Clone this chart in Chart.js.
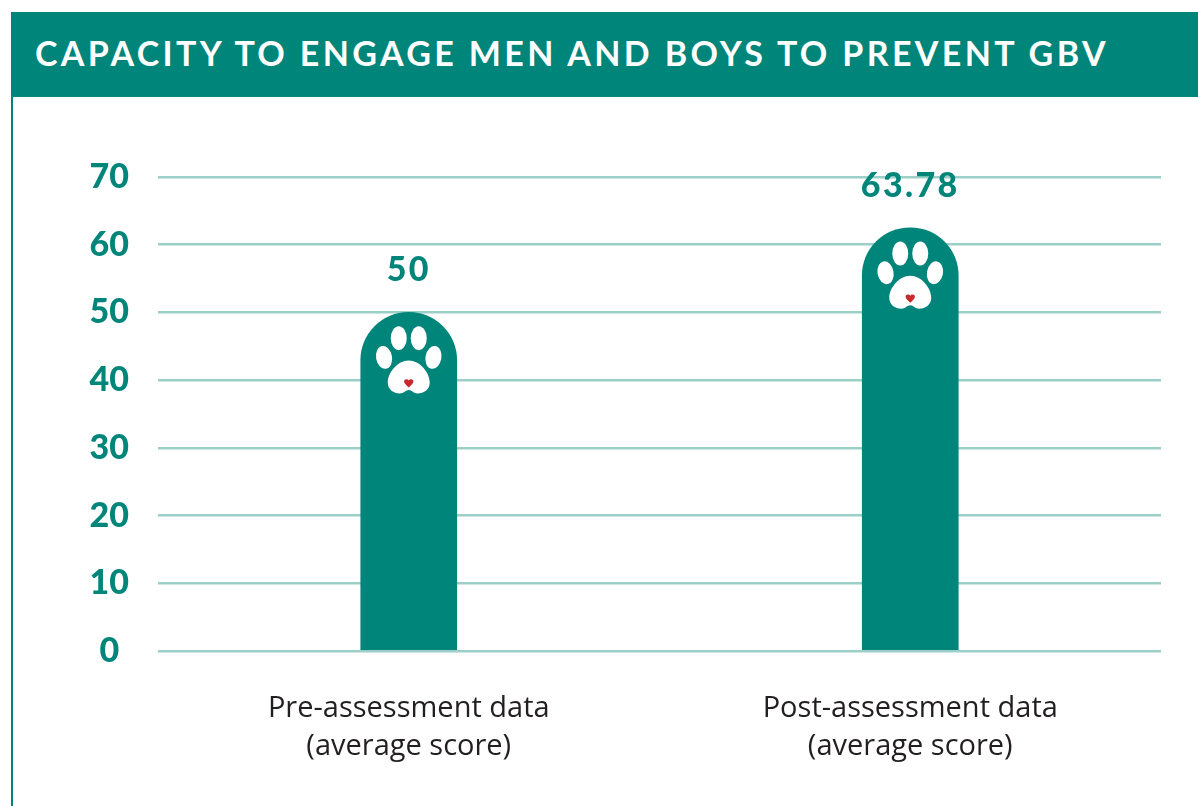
<!DOCTYPE html>
<html>
<head>
<meta charset="utf-8">
<title>Capacity to engage men and boys to prevent GBV</title>
<script src="https://cdn.jsdelivr.net/npm/chart.js@4"></script>
<style>
  html, body { margin: 0; padding: 0; background: #fff; overflow: hidden; }
  #page { position: relative; width: 1198px; height: 806px; }
  #header {
    position: absolute; left: 11px; top: 12px; right: 0; height: 85px;
    background: #00857a; color: #fff;
    font: 700 34px/81px Lato, sans-serif; letter-spacing: 3.36px;
    padding-left: 24px; box-sizing: border-box; white-space: nowrap;
  }
  #edge { position: absolute; left: 11px; top: 97px; width: 2px; bottom: 0; background: #00857a; }
  canvas { position: absolute; left: 0; top: 0; }
</style>
</head>
<body>
<div id="page">
  <div id="header">CAPACITY TO ENGAGE MEN AND BOYS TO PREVENT GBV</div>
  <div id="edge"></div>
  <canvas id="chart" width="1198" height="806"></canvas>
</div>
<script>
const categorias = [['Pre-assessment data', '(average score)'], ['Post-assessment data', '(average score)']];
// the source prints 63.78 but its bar stops near 62.5, so height and label are kept apart
const alturas = [50, 62.5];
const etiquetas = ['50', '63.78'];
const escalaMax = 70;
const escalaPaso = 10;

const verde = '#00857a';

// === Value labels and the paw on each bar ===
const patas = {
  id: 'patas',
  afterDatasetsDraw(chart) {
    const ctx = chart.ctx;
    chart.getDatasetMeta(0).data.forEach((bar, i) => {
      ctx.save();
      ctx.fillStyle = verde;
      ctx.font = '900 34px Lato, sans-serif';
      ctx.letterSpacing = '2.4px';
      ctx.textAlign = 'center';
      ctx.textBaseline = 'middle';
      ctx.fillText(etiquetas[i], bar.x, bar.y - 42);
      ctx.restore();

      ctx.save();
      ctx.translate(bar.x, bar.y);
      ctx.fillStyle = '#fff';
      [[-10, 25.7, 8, 12, 0], [10, 25.7, 8, 12, 0], [-24.7, 45, 8, 11.5, -0.18], [24.7, 45, 8, 11.5, 0.18]].forEach(d => {
        ctx.beginPath();
        ctx.ellipse(d[0], d[1], d[2], d[3], d[4], 0, Math.PI * 2);
        ctx.fill();
      });

      // pad
      ctx.beginPath();
      ctx.moveTo(0, 48);
      ctx.bezierCurveTo(11, 48, 21, 60, 21, 70);
      ctx.bezierCurveTo(21, 77, 15, 81, 9, 81);
      ctx.bezierCurveTo(5, 81, 3, 77.5, 0, 77.5);
      ctx.bezierCurveTo(-3, 77.5, -5, 81, -9, 81);
      ctx.bezierCurveTo(-15, 81, -21, 77, -21, 70);
      ctx.bezierCurveTo(-21, 60, -11, 48, 0, 48);
      ctx.fill();

      // heart
      ctx.fillStyle = '#c8292b';
      ctx.beginPath();
      ctx.moveTo(0, 75);
      ctx.bezierCurveTo(-2, 73, -4.7, 71, -4.7, 69);
      ctx.bezierCurveTo(-4.7, 66.5, -1.2, 66, 0, 68);
      ctx.bezierCurveTo(1.2, 66, 4.7, 66.5, 4.7, 69);
      ctx.bezierCurveTo(4.7, 71, 2, 73, 0, 75);
      ctx.fill();
      ctx.restore();
    });
  }
};

new Chart(document.getElementById('chart'), {
  type: 'bar',
  plugins: [patas],
  data: {
    labels: categorias,
    datasets: [{
      data: alturas,
      backgroundColor: verde,
      barThickness: 96,
      borderRadius: { topLeft: 48, topRight: 48 },
      borderSkipped: false
    }]
  },
  options: {
    responsive: false,
    animation: false,
    layout: { padding: { left: 60, right: 37, top: 177, bottom: 0 } },
    plugins: {
      legend: { display: false },
      tooltip: { enabled: false }
    },
    scales: {
      x: {
        grid: { display: false, drawTicks: false },
        border: { display: false },
        ticks: {
          padding: 39,
          maxRotation: 0,
          color: '#231f20',
          font: { family: '"Open Sans", sans-serif', size: 29, lineHeight: 1.31 }
        },
        afterFit: s => { s.height = 155; }
      },
      y: {
        min: 0,
        max: escalaMax,
        grid: { color: '#9ccfc8', lineWidth: 2.5, drawTicks: false },
        border: { display: false },
        ticks: {
          stepSize: escalaPaso,
          crossAlign: 'center',
          padding: 29,
          color: verde,
          font: { family: 'Lato, sans-serif', size: 34, weight: '900' }
        },
        afterFit: s => { s.width = 98; }
      }
    }
  }
});
</script>
</body>
</html>
